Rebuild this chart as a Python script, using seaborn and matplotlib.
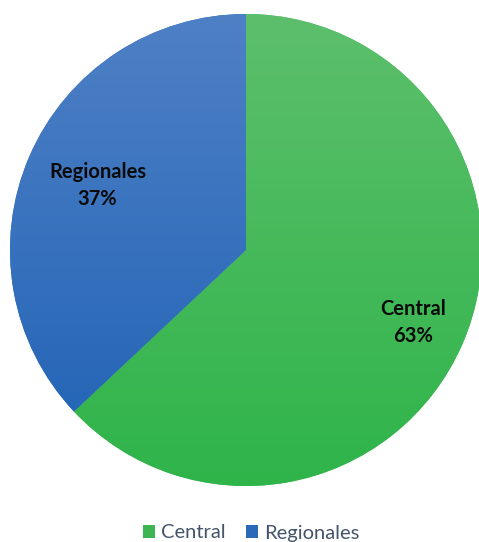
import numpy as np
import matplotlib
matplotlib.use("Agg")
import matplotlib.pyplot as plt
import seaborn as sns
from matplotlib.colors import LinearSegmentedColormap
from matplotlib.patches import Patch

categories = ["Central", "Regionales"]
shares = [63, 37]
label_dist = [0.77, 0.685]
top_colors = ["#5dbf6c", "#4e80c6"]
bottom_colors = ["#2fb44a", "#1f62b4"]
legend_colors = ["#3cb552", "#2a68b8"]

sns.set_theme(style="white")
plt.rcParams["font.family"] = ["Lato", "DejaVu Sans"]

W, H = 479, 542
fig = plt.figure(figsize=(W / 100, H / 100), dpi=100)
cx, cy, r = 246, 250, 236
ax = fig.add_axes([(cx - r) / W, (H - cy - r) / H, 2 * r / W, 2 * r / H])

wedges, _ = ax.pie(shares, startangle=90, counterclock=False, radius=1,
                   colors=legend_colors, wedgeprops=dict(linewidth=0))
ax.set_xlim(-1, 1)
ax.set_ylim(-1, 1)
ax.set_aspect("equal")
ax.axis("off")

for w, c0, c1, cat, val, d in zip(wedges, top_colors, bottom_colors,
                                  categories, shares, label_dist):
    cmap = LinearSegmentedColormap.from_list(cat, [c1, c0])
    grad = np.linspace(0, 1, 256).reshape(-1, 1)
    im = ax.imshow(grad, extent=(-1, 1, -1, 1), origin="lower", cmap=cmap,
                   aspect="auto", zorder=2, interpolation="bicubic")
    im.set_clip_path(w)
    mid = np.deg2rad((w.theta1 + w.theta2) / 2)
    ax.text(d * np.cos(mid), d * np.sin(mid), f"{cat}\n{val}%",
            ha="center", va="center", fontsize=14.5, fontweight="bold",
            color="#0a0a0a", zorder=3, linespacing=1.45)

handles = [Patch(facecolor=c, edgecolor="none") for c in legend_colors]
fig.legend(handles, categories, loc="center", bbox_to_anchor=(251 / W, 1 - 533 / H),
           ncol=2, frameon=False, fontsize=14.5, labelcolor="#44546a",
           handlelength=0.6, handleheight=0.6, handletextpad=0.3, columnspacing=1.0)

fig.savefig("out.png", dpi=100)
